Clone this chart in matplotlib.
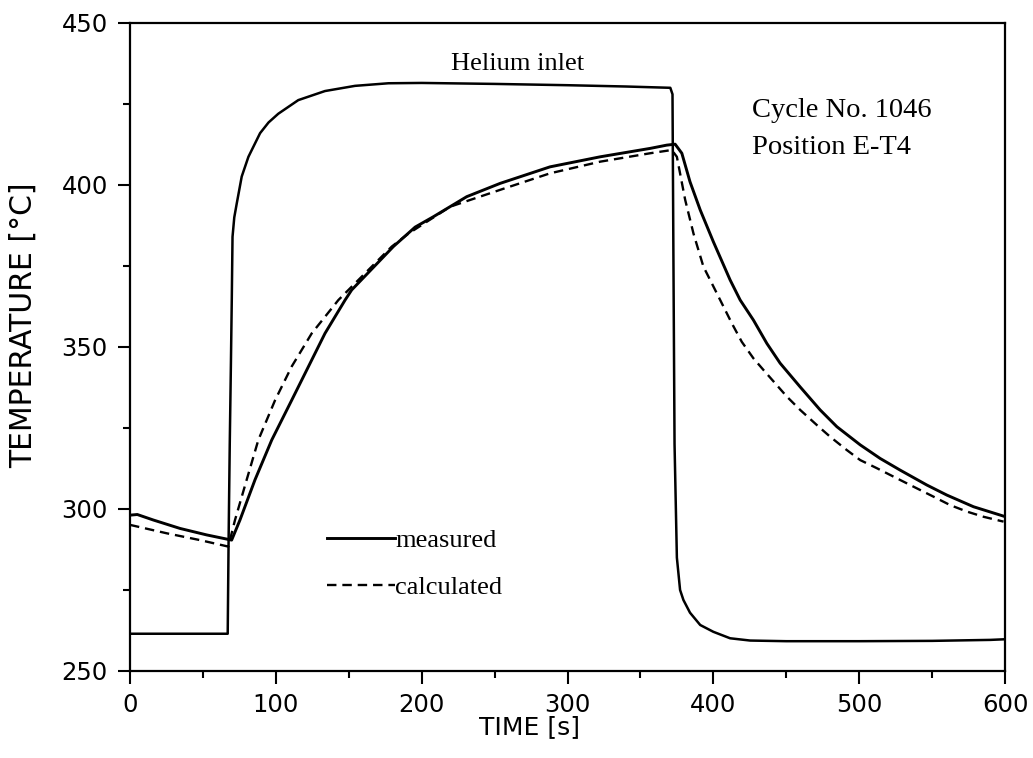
import matplotlib
matplotlib.use("Agg")
import matplotlib.pyplot as plt
from matplotlib.ticker import MultipleLocator

# ---- data ----
helium_t = [0, 30, 67, 67.6, 68.4, 69.2, 69.8, 70.3, 71.5, 73.2, 76.6, 81.2, 89.2,
            95, 101.7, 115.4, 133.7, 154.3, 177.2, 200, 250, 300, 340, 370.5,
            372.0, 372.6, 373.4, 375, 377.2, 379.5, 384, 391, 400, 411.5,
            425.2, 450, 500, 550, 590, 600]
helium_T = [261.5, 261.5, 261.5, 290, 320, 345, 365, 384, 390, 394.3, 402.6, 408.7, 416,
            419.3, 422, 426.2, 429, 430.6, 431.4, 431.5, 431.2, 430.8, 430.4, 430,
            428, 380, 320, 285, 275, 271.9, 268, 264.2, 262.1, 260.1,
            259.4, 259.2, 259.2, 259.3, 259.6, 259.8]

meas_t = [0, 5, 16, 34.3, 52.6, 69.7, 75.4, 85.7, 97.2, 110.9, 122.3, 133.7,
          147.5, 152, 180.6, 195.5, 208, 230.9, 253.8, 288, 322.4, 356.7,
          368, 373.8, 378.4, 384, 391, 400, 411.5, 418.4, 427.5, 436.7, 445.8,
          459.5, 473.2, 484.7, 500.7, 514.4, 528.1, 546.4, 560.1, 578.4, 599]
meas_T = [298.1, 298.3, 296.6, 294, 292, 290.4, 296.6, 309, 321.3, 333.6, 343.9, 354.2,
          364.5, 367.6, 381, 387, 390.2, 396.4, 400.5, 405.6, 408.7, 411.3,
          412.3, 412.6, 409.8, 401, 392.3, 382.5, 370.7, 364.5, 358.3, 351.1, 345,
          337.7, 330.6, 325.4, 319.8, 315.6, 312, 307.4, 304.3, 300.7, 297.8]

calc_t = [0, 25.2, 48, 67.4, 72, 80, 88, 99.5, 110.9, 124.6, 142.9, 179.5,
          190.9, 219.5, 253.8, 288, 322.4, 356.7, 371.5, 375, 380.7, 386.4,
          393.2, 397.8, 404.7, 412.7, 419.5, 427.5, 434.4, 442.4, 450.4, 459.5,
          471, 480.1, 491.5, 500.7, 512.1, 523.5, 535, 551, 562.4, 573.9, 585.3, 599]
calc_T = [295.1, 292.5, 290.4, 288.4, 296.6, 309, 321.3, 333.6, 344, 354.2, 364.5, 381,
          385, 393.3, 398.5, 403.6, 407.2, 409.8, 410.8, 408.7, 395.4, 385,
          374.8, 370.7, 364.5, 357.3, 351.6, 346.5, 342.9, 338.8, 334.7, 330.6,
          325.9, 322.3, 318.2, 315.1, 312.6, 310, 307.4, 303.8, 301.2, 299.2, 297.6, 296.1]

x_ticks = [0, 100, 200, 300, 400, 500, 600]
y_ticks = [250, 300, 350, 400, 450]

fig = plt.figure(figsize=(10.33, 7.58), dpi=100)
ax = fig.add_axes([130/1033, 1 - 671/758, 875/1033, 648/758])

ax.plot(helium_t, helium_T, color="black", lw=1.8)
l1, = ax.plot(meas_t, meas_T, color="black", lw=2.1, label="measured")
l2, = ax.plot(calc_t, calc_T, color="black", lw=1.7, ls=(0, (4, 2.5)), label="calculated")

ax.set_xlim(0, 600)
ax.set_ylim(250, 450)
ax.set_xticks(x_ticks)
ax.set_yticks(y_ticks)
ax.xaxis.set_minor_locator(MultipleLocator(50))
ax.yaxis.set_minor_locator(MultipleLocator(25))

for s in ax.spines.values():
    s.set_linewidth(1.6)

ax.tick_params(which="major", direction="out", length=9, width=1.5, pad=7,
               top=False, right=False)
ax.tick_params(which="minor", direction="out", length=5, width=1.5,
               top=False, right=False)
for lab in ax.get_xticklabels() + ax.get_yticklabels():
    lab.set_fontfamily("DejaVu Sans")
    lab.set_fontsize(17.5)

ax.set_xlabel("TIME [s]", fontfamily="DejaVu Sans", fontsize=18)
ax.set_ylabel("TEMPERATURE [°C]", fontfamily="DejaVu Sans", fontsize=21.5)
ax.xaxis.set_label_coords(0.457, -0.068)
ax.yaxis.set_label_coords(-0.105, 0.534)

serif = "Liberation Serif"
ax.text(265.8, 435.5, "Helium inlet", fontfamily=serif, fontsize=19,
        ha="center", va="baseline")
ax.text(426.4, 420.9, "Cycle No. 1046", fontfamily=serif, fontsize=20.5,
        ha="left", va="baseline")
ax.text(426.4, 409.5, "Position E-T4", fontfamily=serif, fontsize=20.5,
        ha="left", va="baseline")

leg = ax.legend(handles=[l1, l2], loc="upper left",
                bbox_to_anchor=((326.7 - 130) / 875, (671 - 529) / 648),
                frameon=False, handlelength=2.6, handletextpad=0.0,
                borderpad=0.0, borderaxespad=0.0, labelspacing=0.88,
                prop={"family": serif, "size": 19})

fig.savefig("out.png", dpi=100)
